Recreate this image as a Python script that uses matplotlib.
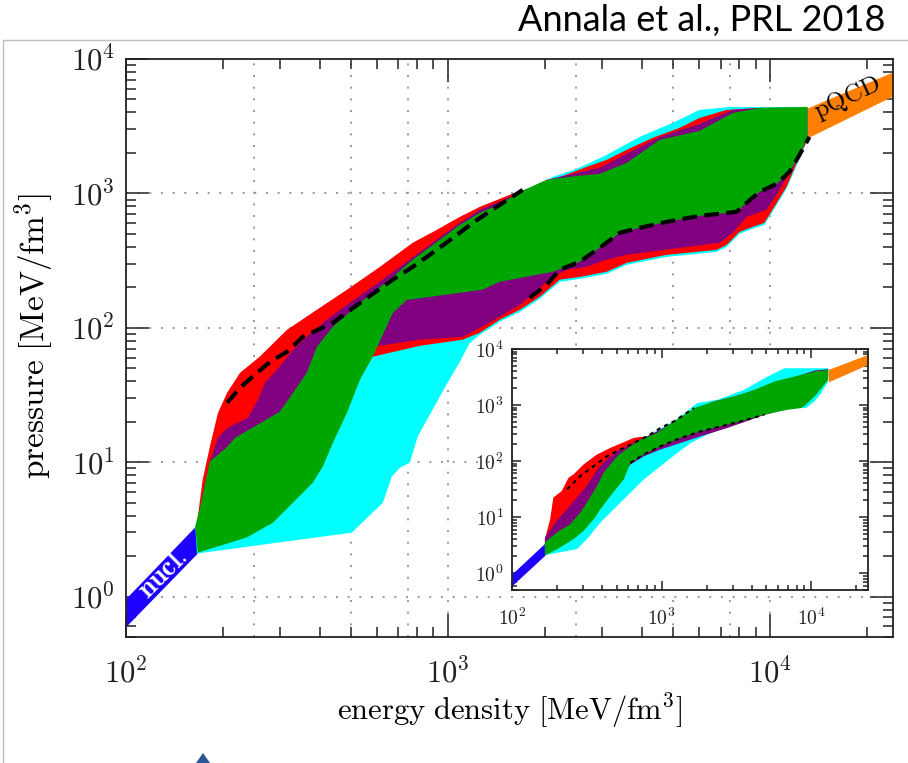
import numpy as np
import matplotlib
matplotlib.use('Agg')
from matplotlib import pyplot as plt
from matplotlib import ticker
from matplotlib.lines import Line2D
from matplotlib.patches import Polygon

plt.rcParams['mathtext.fontset'] = 'cm'

# energy density [MeV/fm^3] and pressure [MeV/fm^3], main panel
nucl_e = [100, 166]
nucl_hi = [0.97, 3.43]
nucl_lo = [0.60, 2.09]
pqcd_e = [13020, 24500]
pqcd_hi = [4325, 8200]
pqcd_lo = [2590, 5450]

cyan_top_e = [164, 170, 182, 218, 330, 391, 532, 816, 1253, 1667, 2110, 2503, 3100, 3925, 4966, 6022, 7464, 13020]
cyan_top_p = [3.31, 4.67, 10.1, 15.2, 32.9, 72.2, 153, 380, 691, 975, 1327, 1521, 1932, 2630, 3345, 4180, 4396, 4396]
cyan_bot_e = [166, 502, 627, 668, 708, 760, 804, 876, 975, 1086, 1167, 1253, 1445, 1667, 1923, 2218, 2557, 3100,
              3575, 4759, 6802, 7311, 8016, 8795, 9575, 10140, 11210, 12300, 13020]
cyan_bot_p = [2.09, 2.99, 5.00, 7.80, 9.10, 9.92, 15.5, 22.5, 35.8, 55.8, 77.3, 88.7, 111, 131, 164, 220, 231, 252,
              294, 337, 367, 400, 500, 545, 583, 729, 1080, 1805, 2500]

red_top_e = [166, 173, 182, 193, 206, 226, 260, 316, 391, 485, 614, 776, 921, 1086, 1253, 1551, 1923, 2110, 2688,
             3100, 3575, 4306, 5221, 6022, 7311, 9246, 13020]
red_top_p = [3.49, 7.41, 13.0, 23.3, 32.9, 46.3, 60.9, 96.6, 136, 192, 284, 429, 535, 668, 794, 975, 1157, 1260, 1574,
             1775, 2105, 2590, 3070, 3641, 4180, 4325, 4325]
red_bot_e = [166, 182, 242, 346, 461, 583, 816, 1109, 1253, 1445, 1667, 1923, 2218, 2557, 3100, 3575, 4759, 6802, 7311,
             8016, 8795, 9575, 10140, 11210, 12300, 13020]
red_bot_p = [2.65, 2.65, 4.83, 11.4, 26.8, 60.9, 73.4, 81.5, 91.8, 115, 136, 170, 228, 239, 261, 304, 349, 380, 414,
             517, 563, 604, 754, 1117, 1868, 2500]

purple_top_e = [166, 182, 193, 207, 239, 257, 270, 294, 330, 364, 420, 485, 583, 708, 858, 1086, 1253, 1667, 2020, 2503,
                2950, 3575, 4529, 6022, 7626, 9246, 13020]
purple_top_p = [3.49, 10.1, 15.2, 18.05, 21.4, 29.2, 39.0, 48.7, 68.6, 85.7, 115, 148, 202, 284, 400, 604, 754, 1009,
                1260, 1420, 1548, 1966, 2630, 3286, 4180, 4325, 4325]
purple_bot_e = [166, 189, 242, 346, 461, 583, 816, 1109, 1253, 1445, 1667, 2110, 2330, 2688, 3100, 3575, 4966, 6952,
                7626, 8425, 9720, 10670, 11450, 12040, 13020]
purple_bot_p = [2.89, 2.89, 5.26, 12.4, 29.2, 72.2, 81.5, 85.7, 100, 121, 148, 239, 270, 284, 321, 349, 387, 429,
                509, 668, 754, 1062, 1420, 1715, 2590]

green_top_e = [164, 170, 182, 206, 218, 300, 330, 364, 391, 439, 532, 673, 776, 941, 1086, 1253, 1476, 1667, 2020, 2503,
               2950, 3575, 4529, 6022, 7626, 9246, 13020]
green_top_p = [3.31, 4.67, 10.1, 13.0, 15.2, 23.7, 32.9, 46.3, 72.2, 102, 153, 239, 321, 451, 583, 716, 850, 1026, 1260,
               1349, 1396, 1686, 2500, 2915, 3967, 4325, 4396]
green_bot_e = [167, 237, 286, 330, 380, 408, 439, 485, 532, 583, 673, 743, 1086, 1279, 1445, 2110, 2557, 2950, 3404,
               3925, 4759, 6022, 7848, 8425, 9246, 10440, 11450, 12300, 13020]
green_bot_p = [2.12, 2.75, 3.55, 5.00, 7.04, 9.26, 14.0, 23.3, 41.0, 60.9, 129, 161, 182, 192, 220, 261, 310, 393, 509,
               554, 614, 680, 729, 850, 1026, 1177, 1445, 1932, 2590]

dash_hi_e = [206, 226, 255, 280, 316, 354, 439, 532, 673, 776, 921, 1086, 1191, 1476, 1703]
dash_hi_p = [27.7, 35.8, 46.3, 55.8, 66.3, 85.7, 109, 153, 228, 284, 380, 509, 604, 850, 1062]
dash_lo_e = [1789, 2020, 2218, 2557, 2950, 3404, 3925, 4759, 6022, 7848, 8425, 9246, 10440, 11450, 12300, 13210]
dash_lo_p = [167, 209, 270, 310, 393, 509, 554, 614, 680, 729, 850, 1026, 1177, 1445, 1932, 2630]

# inset panel
in_cyan_top_e = [166, 199, 286, 370, 504, 723, 1210, 1735, 2364, 3570, 5117, 6622, 13000]
in_cyan_top_p = [3.53, 5.32, 12.05, 35.9, 122, 242, 512, 1084, 1242, 1870, 3226, 4536, 4536]
in_cyan_bot_e = [166, 272, 317, 390, 455, 588, 761, 985, 1274, 1565, 2026, 3059, 4863, 7729, 9256, 10530, 11670, 13000]
in_cyan_bot_p = [2.10, 2.69, 4.05, 8.0, 12.05, 23.8, 47.1, 81.3, 140, 211, 297, 447, 701, 883, 883, 1160, 1632, 2630]

in_red_top_e = [166, 180, 189, 215, 239, 258, 301, 370, 455, 545, 652, 723]
in_red_top_p = [4.05, 9.18, 22.3, 29.2, 50.5, 57.8, 87.0, 131, 172, 211, 259, 270]
in_red_bot_e = [166, 210, 286, 370, 531, 604, 723, 985]
in_red_bot_p = [2.69, 3.53, 6.99, 15.8, 47.1, 90.7, 161, 277]

in_purple_top_e = [166, 199, 233, 272, 309, 343, 380, 432, 504, 619, 761, 985, 1274, 1648, 2245, 3388, 5117, 7729,
                   10530, 13000]
in_purple_top_p = [4.34, 8.57, 13.8, 22.3, 33.5, 50.5, 75.9, 107, 150, 197, 259, 364, 548, 825, 1160, 1524, 2143, 3140,
                   4121, 4355]
in_purple_bot_e = [166, 233, 301, 390, 504, 619, 761, 985, 1341, 1827, 2759, 3957, 4863, 6975, 8570, 10530, 13000]
in_purple_bot_p = [3.08, 4.64, 8.57, 20.8, 47.1, 87.0, 122, 161, 211, 277, 390, 548, 664, 860, 946, 1524, 3226]

in_green_top_e = [166, 199, 245, 286, 317, 370, 410, 504, 619, 723, 935, 1210, 1487, 1648, 2245, 3059, 4167, 5675, 7729,
                  10530, 13000]
in_green_top_p = [3.53, 5.32, 7.48, 12.05, 18.2, 35.9, 61.9, 122, 184, 242, 318, 512, 720, 883, 1160, 1423, 1870, 2630,
                  3226, 3957, 4236]
in_green_bot_e = [166, 210, 258, 301, 352, 390, 455, 559, 619, 761, 985, 1341, 1827, 2489, 3388, 4863, 6975, 8570, 9256,
                  10800, 13000]
in_green_bot_p = [2.05, 2.88, 4.05, 5.69, 9.18, 13.8, 23.8, 47.1, 93.1, 131, 184, 259, 340, 417, 512, 673, 825, 883,
                  1012, 1524, 2815]

in_dot_hi_e = [233, 286, 352, 432, 531, 652, 801, 985, 1210, 1648]
in_dot_hi_p = [31.3, 54.0, 81.3, 122, 161, 211, 277, 390, 512, 883]
in_dot_lo_e = [619, 761, 985, 1341, 1827, 2489, 3388, 4863]
in_dot_lo_p = [93.1, 131, 184, 259, 340, 417, 512, 673]

grid_e = [250, 500, 750, 1000, 2500, 5000, 7500, 10000]
grid_p = [1, 10, 100, 1000]

CYAN = '#00ffff'
RED = '#ff0000'
PURPLE = '#800080'
GREEN = '#00a600'
BLUE = '#1e00ff'
ORANGE = '#ff8000'


def band(ax, top_e, top_p, bot_e, bot_p, color, z):
    e = np.concatenate([top_e, bot_e[::-1]])
    p = np.concatenate([top_p, bot_p[::-1]])
    ax.fill(e, p, color=color, lw=0, zorder=z)


def log_fmt(v, pos):
    return r'$\mathrm{10^{%d}}$' % int(round(np.log10(v)))


def style_axes(ax, major, minor, size, xpad, ypad):
    ax.set_xscale('log')
    ax.set_yscale('log')
    ax.set_xlim(100, 2.4e4)
    ax.set_ylim(0.5, 1e4)
    ax.xaxis.set_major_locator(ticker.LogLocator(base=10, numticks=10))
    ax.yaxis.set_major_locator(ticker.LogLocator(base=10, numticks=10))
    ax.xaxis.set_minor_locator(ticker.LogLocator(base=10, subs=np.arange(2, 10), numticks=20))
    ax.yaxis.set_minor_locator(ticker.LogLocator(base=10, subs=np.arange(2, 10), numticks=20))
    ax.xaxis.set_major_formatter(ticker.FuncFormatter(log_fmt))
    ax.yaxis.set_major_formatter(ticker.FuncFormatter(log_fmt))
    ax.xaxis.set_minor_formatter(ticker.NullFormatter())
    ax.yaxis.set_minor_formatter(ticker.NullFormatter())
    ax.tick_params(which='both', direction='in', top=True, right=True, width=1.1, colors='#222222')
    ax.tick_params(which='major', length=major, labelsize=size)
    ax.tick_params(which='minor', length=minor)
    ax.tick_params(axis='x', which='major', pad=xpad)
    ax.tick_params(axis='y', which='major', pad=ypad)
    for s in ax.spines.values():
        s.set_linewidth(1.3)
        s.set_color('#222222')


def draw_common(ax, bands, lines, style):
    ax.fill_between(nucl_e, nucl_lo, nucl_hi, color=BLUE, lw=0, zorder=2)
    ax.fill_between(pqcd_e, pqcd_lo, pqcd_hi, color=ORANGE, lw=0, zorder=2)
    for i, (te, tp, be, bp, c) in enumerate(bands):
        band(ax, np.array(te), np.array(tp), np.array(be), np.array(bp), c, 2 + i * 0.1)
    for le, lp in lines:
        ax.plot(le, lp, color='black', zorder=5, **style)


fig = plt.figure(figsize=(9.08, 7.63), dpi=100)
ax = fig.add_axes([126 / 908, 1 - 637 / 763, 767 / 908, 578 / 763])
style_axes(ax, 16.5, 7.5, 22, 15, 8)

for g in grid_e:
    ax.axvline(g, color='#999999', lw=1.4, ls=(0, (1, 5)), zorder=0.5)
for g in grid_p:
    ax.axhline(g, color='#999999', lw=1.4, ls=(0, (1, 5)), zorder=0.5)

draw_common(ax,
            [(cyan_top_e, cyan_top_p, cyan_bot_e, cyan_bot_p, CYAN),
             (red_top_e, red_top_p, red_bot_e, red_bot_p, RED),
             (purple_top_e, purple_top_p, purple_bot_e, purple_bot_p, PURPLE),
             (green_top_e, green_top_p, green_bot_e, green_bot_p, GREEN)],
            [(dash_hi_e, dash_hi_p), (dash_lo_e, dash_lo_p)],
            dict(lw=3.0, ls=(0, (3.5, 1.8))))

ax.text(130, 1.5, r'$\mathbf{nucl.}$', color='white', fontsize=20, rotation=45,
        ha='center', va='center', zorder=6)
ax.text(17300, 5150, r'$\mathrm{pQCD}$', color='black', fontsize=18, rotation=25,
        ha='center', va='center', zorder=6)

ax.set_xlabel(r'$\mathrm{energy\ density\ [MeV/fm^3]}$', fontsize=22)
ax.set_ylabel(r'$\mathrm{pressure\ [MeV/fm^3]}$', fontsize=24)
ax.xaxis.set_label_coords(0.5, -0.095)
ax.yaxis.set_label_coords(-0.092, 0.52)

# inset
axi = fig.add_axes([512 / 908, 1 - 590 / 763, 356 / 908, 241 / 763], zorder=10)
axi.set_facecolor('white')
style_axes(axi, 6.5, 3.5, 14, 13, 6)
draw_common(axi,
            [(in_cyan_top_e, in_cyan_top_p, in_cyan_bot_e, in_cyan_bot_p, CYAN),
             (in_red_top_e, in_red_top_p, in_red_bot_e, in_red_bot_p, RED),
             (in_purple_top_e, in_purple_top_p, in_purple_bot_e, in_purple_bot_p, PURPLE),
             (in_green_top_e, in_green_top_p, in_green_bot_e, in_green_bot_p, GREEN)],
            [(in_dot_hi_e, in_dot_hi_p), (in_dot_lo_e, in_dot_lo_p)],
            dict(lw=1.5, ls=(0, (2.0, 2.0))))

# slide frame and caption
fig.text(885 / 908, 1 - 4 / 763, 'Annala et al., PRL 2018', ha='right', va='top',
         family=['Lato', 'DejaVu Sans'], fontsize=26)
y_frame = 1 - 40 / 763
fig.add_artist(Line2D([3 / 908, 3 / 908, 1], [0, y_frame, y_frame], transform=fig.transFigure,
                      color='#bfbfbf', lw=1.0))
fig.add_artist(Polygon([[196 / 908, 0], [203 / 908, 10 / 763], [210 / 908, 0]], closed=True,
                       transform=fig.transFigure, color='#2f5597', lw=0))

fig.savefig('out.png', dpi=100)
